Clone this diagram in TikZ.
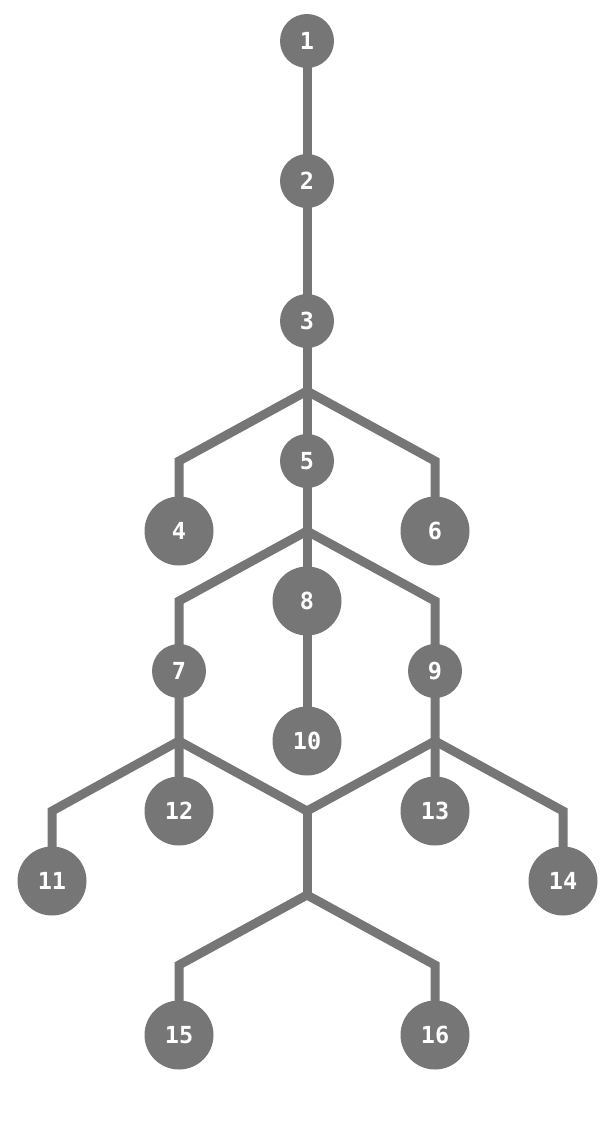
\documentclass[tikz,border=0pt]{standalone}
\usepackage{fontspec}
\newfontfamily\labfont{DejaVu Sans Mono}
\usetikzlibrary{backgrounds}
\definecolor{tg}{RGB}{118,118,118}
\tikzset{
  sm/.style={circle,fill=tg,minimum size=54pt,inner sep=0pt,text=white,font=\labfont\bfseries\fontsize{23.5}{23.5}\selectfont},
  bg/.style={circle,fill=tg,minimum size=69pt,inner sep=0pt,text=white,font=\labfont\bfseries\fontsize{23.5}{23.5}\selectfont},
  conn/.style={draw=tg,line width=9pt,miter limit=10}
}
\begin{document}
\begin{tikzpicture}[x=1pt,y=-1pt]
\useasboundingbox (0,0) rectangle (615,1141);
\node[sm] (n1) at (307,41) {1};
\node[sm] (n2) at (307,181) {2};
\node[sm] (n3) at (307,321) {3};
\node[bg] (n4) at (179,531) {4};
\node[sm] (n5) at (307,461) {5};
\node[bg] (n6) at (435,531) {6};
\node[sm] (n7) at (179,671) {7};
\node[bg] (n8) at (307,601) {8};
\node[sm] (n9) at (435,671) {9};
\node[bg] (n10) at (307,741) {10};
\node[bg] (n11) at (52,881) {11};
\node[bg] (n12) at (179,811) {12};
\node[bg] (n13) at (435,811) {13};
\node[bg] (n14) at (563,881) {14};
\node[bg] (n15) at (179,1035) {15};
\node[bg] (n16) at (435,1035) {16};
\coordinate (j3) at (307,391);
\coordinate (c4) at (179,461);
\coordinate (c6) at (435,461);
\coordinate (j5) at (307,531);
\coordinate (c7) at (179,601);
\coordinate (c9) at (435,601);
\coordinate (j7) at (179,741);
\coordinate (j9) at (435,741);
\coordinate (c11) at (52,811);
\coordinate (c14) at (563,811);
\coordinate (m) at (307,811);
\coordinate (jl) at (307,895);
\coordinate (c15) at (179,965);
\coordinate (c16) at (435,965);
\begin{pgfonlayer}{background}
\draw[conn] (n1.center) -- (n2.center) -- (n3.center) -- (j3) -- (n5.center) -- (j5) -- (n8.center) -- (n10.center);
\draw[conn] (n4.center) -- (c4) -- (j3) -- (c6) -- (n6.center);
\draw[conn] (n12.center) -- (j7) -- (n7.center) -- (c7) -- (j5) -- (c9) -- (n9.center) -- (j9) -- (n13.center);
\draw[conn] (n11.center) -- (c11) -- (j7) -- (m) -- (j9) -- (c14) -- (n14.center);
\draw[conn] (m) -- (jl);
\draw[conn] (n15.center) -- (c15) -- (jl) -- (c16) -- (n16.center);
\end{pgfonlayer}
\end{tikzpicture}
\end{document}
